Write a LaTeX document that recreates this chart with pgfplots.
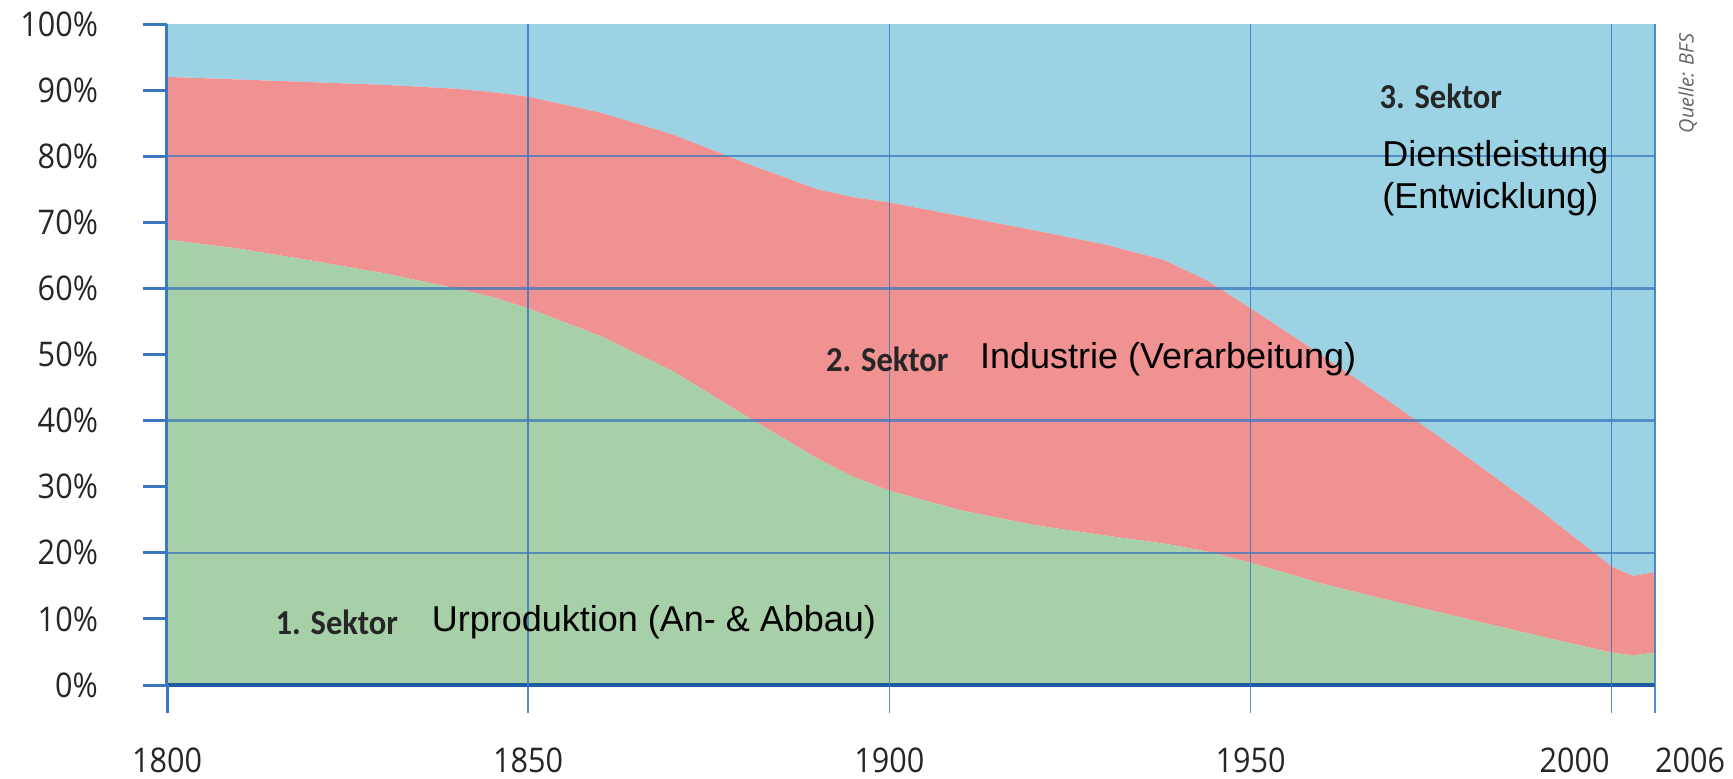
\documentclass[border=0pt]{standalone}
\usepackage{pgfplots}
\usepackage{pgfplotstable}
\pgfplotsset{compat=1.18}
\usepackage{fontspec}
\setmainfont{Liberation Sans}
\newfontfamily\tickfont[FakeStretch=0.9]{Open Sans}
\newfontfamily\srcfont{Open Sans}
\newfontfamily\boldfont[FakeStretch=0.93]{Carlito}
\definecolor{sblue}{RGB}{155,211,229}
\definecolor{sred}{RGB}{240,145,146}
\definecolor{sgreen}{RGB}{168,208,168}
\definecolor{gridblue}{RGB}{60,120,190}
\definecolor{axisblue}{RGB}{30,90,160}

\pgfplotstableread{
year s1   s2   s3
1800 67.4 24.6 8.0
1810 66.0 25.6 8.4
1820 64.2 27.0 8.8
1830 62.3 28.5 9.2
1840 60.0 30.2 9.8
1845 58.7 31.0 10.3
1850 57.0 32.0 11.0
1860 52.8 33.8 13.4
1870 47.5 35.8 16.7
1880 40.8 38.2 21.0
1890 34.3 40.7 25.0
1895 31.5 42.3 26.2
1900 29.4 43.6 27.0
1910 26.4 44.5 29.1
1920 24.2 44.6 31.2
1930 22.6 44.0 33.4
1938 21.4 42.9 35.7
1944 20.2 41.0 38.8
1950 18.5 38.5 43.0
1960 15.3 34.5 50.2
1970 12.6 29.7 57.7
1980 10.0 24.5 65.5
1990 7.4 19.1 73.5
2000 4.9 13.0 82.1
2003 4.5 12.0 83.5
2006 4.9 12.2 82.9
}\data

\begin{document}
\begin{tikzpicture}
\begin{axis}[
  name=ax,
  scale only axis, width=744pt, height=330.5pt,
  xmin=1800, xmax=2006, ymin=0, ymax=100,
  stack plots=y, area style,
  axis on top, clip=false,
  axis x line=bottom, axis y line=left,
  axis line style={-},
  x axis line style={axisblue, line width=2pt},
  y axis line style={gridblue, line width=1.5pt},
  grid=none, xmajorgrids=false, ymajorgrids=false,
  xtick={1800,1850,1900,1950,2000,2006},
  xticklabels={1800,1850,1900,1950,\llap{2000\hspace{1pt}},\rlap{\hspace*{0pt}2006}},
  xtick style={draw=none},
  ytick={0,10,...,100},
  yticklabel={\pgfmathprintnumber{\tick}\%},
  tick align=outside,
  major tick length=12pt,
  ytick style={gridblue, line width=1.5pt},
  /pgf/number format/assume math mode=true,
  ticklabel style={font=\tickfont\fontsize{17}{20}\selectfont, text=black!85},
  xticklabel style={yshift=-16pt},
  yticklabel style={xshift=-19pt},
]
\addplot[fill=sgreen, draw=none] table[x=year, y=s1] {\data} \closedcycle;
\addplot[fill=sred, draw=none] table[x=year, y=s2] {\data} \closedcycle;
\addplot[fill=sblue, draw=none] table[x=year, y=s3] {\data} \closedcycle;

\coordinate (v0a) at (rel axis cs:0,-0.042);       \coordinate (v0b) at (rel axis cs:0,0);
\coordinate (v1a) at (rel axis cs:0.24272,-0.042); \coordinate (v1b) at (rel axis cs:0.24272,1);
\coordinate (v2a) at (rel axis cs:0.48544,-0.042); \coordinate (v2b) at (rel axis cs:0.48544,1);
\coordinate (v3a) at (rel axis cs:0.72816,-0.042); \coordinate (v3b) at (rel axis cs:0.72816,1);
\coordinate (v4a) at (rel axis cs:0.97087,-0.042); \coordinate (v4b) at (rel axis cs:0.97087,1);
\coordinate (v5a) at (rel axis cs:1,-0.042);       \coordinate (v5b) at (rel axis cs:1,1);

\coordinate (h20a) at (rel axis cs:0,0.2);  \coordinate (h20b) at (rel axis cs:1,0.2);
\coordinate (h40a) at (rel axis cs:0,0.4);  \coordinate (h40b) at (rel axis cs:1,0.4);
\coordinate (h60a) at (rel axis cs:0,0.6);  \coordinate (h60b) at (rel axis cs:1,0.6);
\coordinate (h80a) at (rel axis cs:0,0.8);  \coordinate (h80b) at (rel axis cs:1,0.8);

\coordinate (t1) at (rel axis cs:0.0728,0.095);
\coordinate (t2) at (rel axis cs:0.1777,0.095);
\coordinate (t3) at (rel axis cs:0.4427,0.493);
\coordinate (t4) at (rel axis cs:0.5461,0.493);
\coordinate (t5) at (rel axis cs:0.8146,0.891);
\coordinate (t6) at (rel axis cs:0.8165,0.799);
\coordinate (t7) at (rel axis cs:0.8165,0.735);
\coordinate (q) at (rel axis cs:1.022,0.91);
\end{axis}

\draw[gridblue, line width=1.5pt] (v0a) -- (v0b);
\foreach \v in {1,...,5}
  \draw[gridblue, line width=0.8pt, opacity=0.85] (v\v a) -- (v\v b);
\foreach \h in {20,40,60,80}
  \draw[gridblue, line width=1.2pt, opacity=0.75] (h\h a) -- (h\h b);

\node[anchor=west, inner sep=0pt, font=\boldfont\bfseries\fontsize{17.5}{20}\selectfont, text=black!85] at (t1) {1. Sektor};
\node[anchor=west, inner sep=0pt, font=\fontsize{18}{21}\selectfont] at (t2) {Urproduktion (An- \& Abbau)};
\node[anchor=west, inner sep=0pt, font=\boldfont\bfseries\fontsize{17.5}{20}\selectfont, text=black!85] at (t3) {2. Sektor};
\node[anchor=west, inner sep=0pt, font=\fontsize{18}{21}\selectfont] at (t4) {Industrie (Verarbeitung)};
\node[anchor=west, inner sep=0pt, font=\boldfont\bfseries\fontsize{17.5}{20}\selectfont, text=black!85] at (t5) {3. Sektor};
\node[anchor=west, inner sep=0pt, font=\fontsize{18}{21}\selectfont] at (t6) {Dienstleistung};
\node[anchor=west, inner sep=0pt, font=\fontsize{18}{21}\selectfont] at (t7) {(Entwicklung)};
\node[rotate=90, font=\srcfont\itshape\fontsize{10}{12}\selectfont, text=black!60] at (q) {Quelle: BFS};

\pgfresetboundingbox
\path ([xshift=-83.5pt,yshift=-46.5pt]ax.south west) rectangle ([xshift=783pt,yshift=342.5pt]ax.south west);
\end{tikzpicture}
\end{document}
